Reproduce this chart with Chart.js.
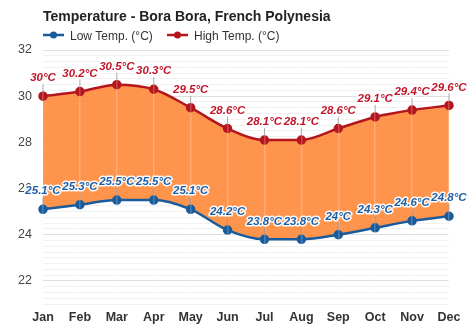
<!DOCTYPE html>
<html>
<head>
<meta charset="utf-8">
<script src="https://cdn.jsdelivr.net/npm/chart.js@4/dist/chart.umd.min.js"></script>
<style>
  html, body { margin: 0; padding: 0; background: #fff; }
  #wrap { width: 474px; height: 331px; position: relative; }
</style>
</head>
<body>
<div id="wrap"><canvas id="c" width="474" height="331"></canvas></div>
<script>
const chartTitle = 'Temperature - Bora Bora, French Polynesia';
const months = ['Jan', 'Feb', 'Mar', 'Apr', 'May', 'Jun', 'Jul', 'Aug', 'Sep', 'Oct', 'Nov', 'Dec'];
const lowTemps = [25.1, 25.3, 25.5, 25.5, 25.1, 24.2, 23.8, 23.8, 24.0, 24.3, 24.6, 24.8];
const highTemps = [30.0, 30.2, 30.5, 30.3, 29.5, 28.6, 28.1, 28.1, 28.6, 29.1, 29.4, 29.6];
const yTickLabels = [22, 24, 26, 28, 30, 32];
const seriesNames = ['Low Temp. (°C)', 'High Temp. (°C)'];

const FONT = '"Liberation Sans", Arial, sans-serif';
const LOW_COLOR = '#1a5b9c';
const HIGH_COLOR = '#b5161e';
const LOW_LABEL = '#1d5fa8';
const HIGH_LABEL = '#c0162a';
const Y_MIN = 21, Y_MAX = 32, MINOR_STEP = 0.25;

// Title and legend drawn above the plot area
const headerPlugin = {
  id: 'header',
  afterDraw(chart) {
    const ctx = chart.ctx;
    const left = chart.chartArea.left;
    ctx.save();
    ctx.fillStyle = '#222';
    ctx.font = 'bold 14px ' + FONT;
    ctx.textBaseline = 'alphabetic';
    ctx.textAlign = 'left';
    ctx.fillText(chartTitle, left, 21);

    const items = [
      { name: seriesNames[0], color: LOW_COLOR, x: left },
      { name: seriesNames[1], color: HIGH_COLOR, x: left + 124 }
    ];
    ctx.font = '12px ' + FONT;
    items.forEach(it => {
      const y = 35;
      ctx.strokeStyle = it.color;
      ctx.lineWidth = 2.5;
      ctx.beginPath();
      ctx.moveTo(it.x, y);
      ctx.lineTo(it.x + 21, y);
      ctx.stroke();
      ctx.fillStyle = it.color;
      ctx.beginPath();
      ctx.arc(it.x + 10.5, y, 3.5, 0, Math.PI * 2);
      ctx.fill();
      ctx.fillStyle = '#333';
      ctx.fillText(it.name, it.x + 27, 40);
    });
    ctx.restore();
  }
};

// Value labels above each point, with a short leader line down to the marker
const valueLabelPlugin = {
  id: 'valueLabels',
  afterDraw(chart) {
    const ctx = chart.ctx;
    ctx.save();
    ctx.font = 'italic bold 11.5px ' + FONT;
    ctx.textAlign = 'center';
    ctx.textBaseline = 'middle';
    chart.data.datasets.forEach((ds, di) => {
      const meta = chart.getDatasetMeta(di);
      const color = di === 0 ? LOW_LABEL : HIGH_LABEL;
      meta.data.forEach((pt, i) => {
        const v = ds.data[i];
        const txt = (Number.isInteger(v) ? v.toString() : v.toFixed(1)) + '°C';
        const ly = pt.y - 18;
        ctx.strokeStyle = 'rgba(140,140,140,0.75)';
        ctx.lineWidth = 1;
        ctx.beginPath();
        ctx.moveTo(pt.x, ly + 6);
        ctx.lineTo(pt.x, pt.y - 4);
        ctx.stroke();
        ctx.lineJoin = 'round';
        ctx.strokeStyle = 'rgba(255,255,255,0.95)';
        ctx.lineWidth = 3;
        ctx.strokeText(txt, pt.x, ly);
        ctx.fillStyle = color;
        ctx.fillText(txt, pt.x, ly);
      });
    });
    ctx.restore();
  }
};

const yGridValues = [];
for (let v = Y_MIN; v <= Y_MAX + 1e-9; v += MINOR_STEP) yGridValues.push(Math.round(v * 100) / 100);

new Chart(document.getElementById('c'), {
  type: 'line',
  data: {
    labels: months,
    datasets: [
      {
        label: seriesNames[0],
        data: lowTemps,
        borderColor: LOW_COLOR,
        backgroundColor: LOW_COLOR,
        borderWidth: 2.5,
        pointRadius: 3.5,
        pointBackgroundColor: LOW_COLOR,
        pointBorderColor: LOW_COLOR,
        cubicInterpolationMode: 'monotone',
        fill: false,
        clip: false
      },
      {
        label: seriesNames[1],
        data: highTemps,
        borderColor: HIGH_COLOR,
        backgroundColor: 'rgba(255,140,62,0.93)',
        borderWidth: 2.5,
        pointRadius: 3.5,
        pointBackgroundColor: HIGH_COLOR,
        pointBorderColor: HIGH_COLOR,
        cubicInterpolationMode: 'monotone',
        fill: '-1',
        clip: false
      }
    ]
  },
  options: {
    responsive: false,
    animation: false,
    devicePixelRatio: 1,
    layout: { padding: { top: 50, right: 25, left: 0, bottom: 0 } },
    plugins: {
      legend: { display: false },
      title: { display: false },
      tooltip: { enabled: false }
    },
    scales: {
      x: {
        offset: false,
        border: { display: false },
        grid: {
          z: 1,
          color: 'rgba(255,255,255,0.22)',
          lineWidth: 1.5,
          drawTicks: false
        },
        ticks: {
          padding: 6,
          color: '#333',
          font: { family: FONT, size: 12.5, weight: 'bold' },
          maxRotation: 0,
          autoSkip: false
        },
        afterFit(axis) { axis.height = 27; }
      },
      y: {
        min: Y_MIN,
        max: Y_MAX,
        border: { display: false },
        afterBuildTicks(axis) {
          axis.ticks = yGridValues.map(v => ({ value: v }));
        },
        grid: {
          drawTicks: false,
          color(ctx) {
            const v = ctx.tick && ctx.tick.value;
            return yTickLabels.includes(v) ? 'rgba(0,0,0,0.13)' : 'rgba(0,0,0,0.055)';
          },
          lineWidth: 1
        },
        ticks: {
          autoSkip: false,
          padding: 11,
          color: '#444',
          font: { family: FONT, size: 12.5 },
          callback(v) { return yTickLabels.includes(v) ? String(v) : ''; }
        },
        afterFit(axis) { axis.width = 43; }
      }
    }
  },
  plugins: [headerPlugin, valueLabelPlugin]
});
</script>
</body>
</html>
